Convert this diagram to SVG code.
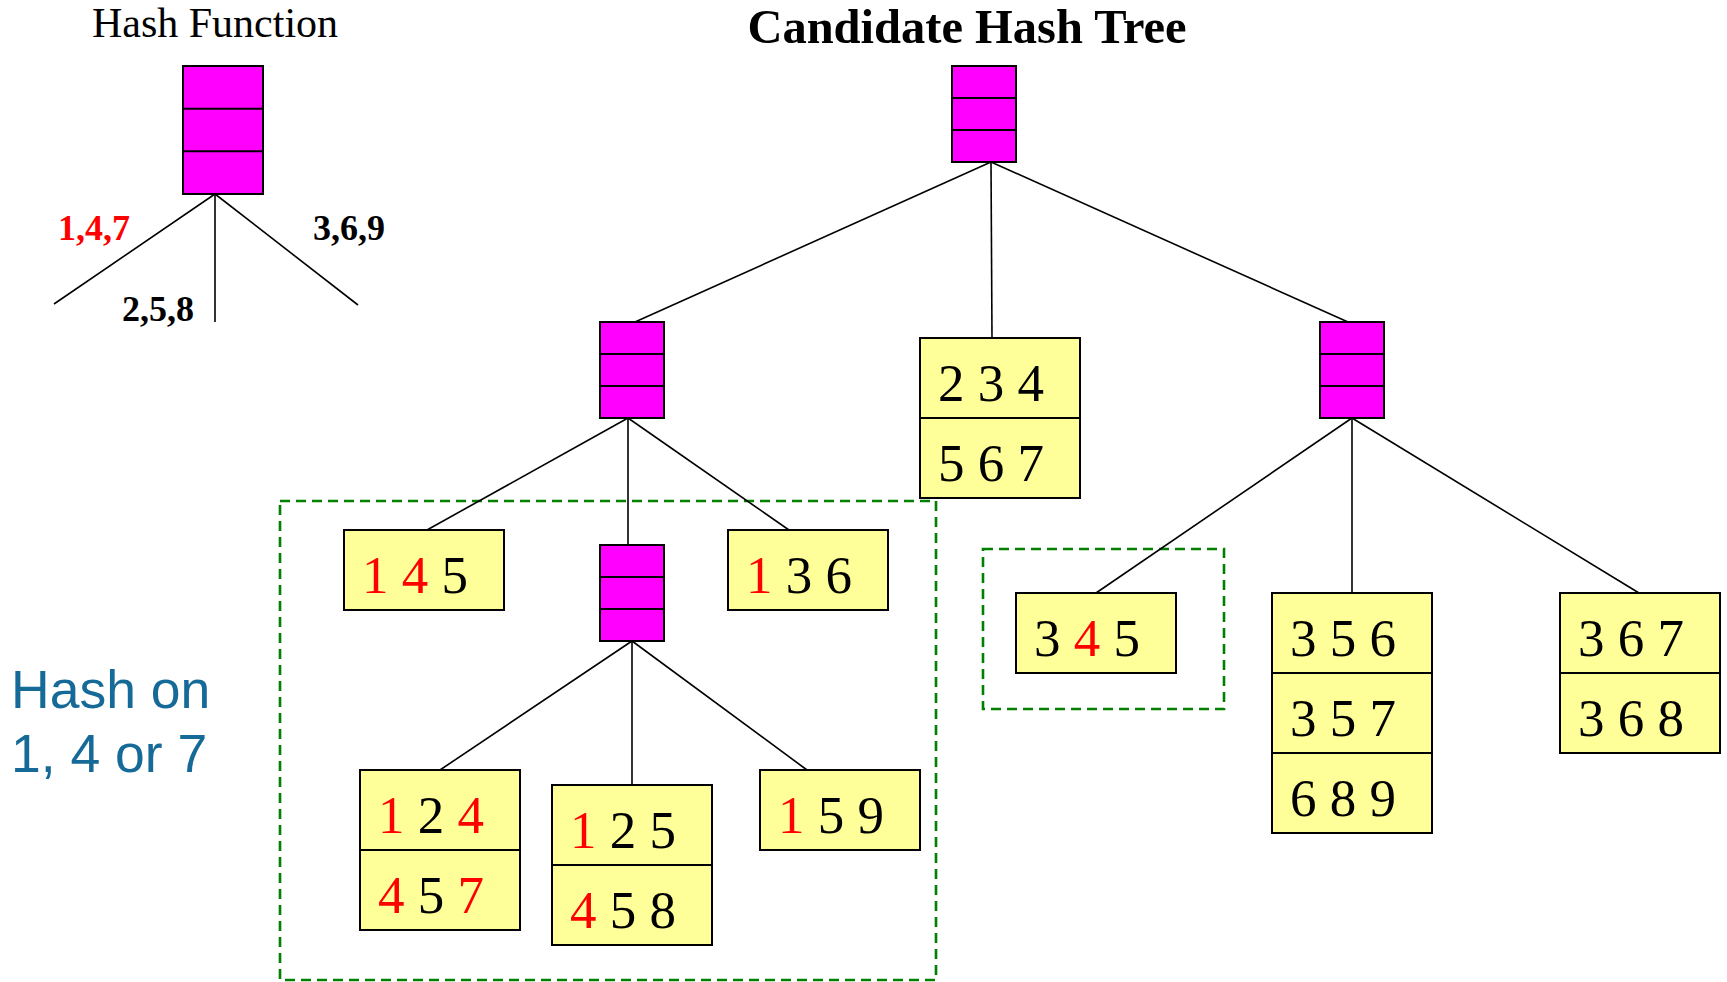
<svg xmlns="http://www.w3.org/2000/svg" width="1727" height="982" viewBox="0 0 1727 982">
<style>
.hb{fill:#FF00FF;stroke:#000;stroke-width:2}
.lf{fill:#FFFF99;stroke:#000;stroke-width:2}
.dv{stroke:#000;stroke-width:2}
.cn{stroke:#000;stroke-width:1.6;fill:none}
.ds{fill:none;stroke:#008000;stroke-width:2.6;stroke-dasharray:10,6}
.num{font-family:"Liberation Serif","Times New Roman",serif;font-size:53px;fill:#000}
.r{fill:#FF0000}
.lbl{font-family:"Liberation Serif","Times New Roman",serif;font-size:36px;font-weight:bold}
</style>
<rect width="1727" height="982" fill="#fff"/>

<g id="titles">
<text x="215" y="37" text-anchor="middle" font-family="Liberation Serif, serif" font-size="42">Hash Function</text>
<text x="967" y="43" text-anchor="middle" font-family="Liberation Serif, serif" font-size="48.5" font-weight="bold">Candidate Hash Tree</text>
<text x="11" y="708" font-family="Liberation Sans, Arial, sans-serif" font-size="53.5" fill="#166A98">Hash on</text>
<text x="11" y="772" font-family="Liberation Sans, Arial, sans-serif" font-size="53.5" fill="#166A98">1, 4 or 7</text>
</g>

<g id="highlights">
<rect class="ds" x="280" y="501" width="656" height="479"/>
<rect class="ds" x="983" y="549" width="241" height="160"/>
</g>

<g id="connectors">
<line class="cn" x1="215" y1="194" x2="54" y2="304"/>
<line class="cn" x1="215" y1="194" x2="215" y2="322"/>
<line class="cn" x1="215" y1="194" x2="358" y2="305"/>
<line class="cn" x1="991" y1="162" x2="635" y2="322"/>
<line class="cn" x1="991" y1="162" x2="992" y2="338"/>
<line class="cn" x1="991" y1="162" x2="1348" y2="322"/>
<line class="cn" x1="628" y1="418" x2="427" y2="530"/>
<line class="cn" x1="628" y1="418" x2="628" y2="545"/>
<line class="cn" x1="628" y1="418" x2="789" y2="530"/>
<line class="cn" x1="632" y1="641" x2="440" y2="770"/>
<line class="cn" x1="632" y1="641" x2="632" y2="785"/>
<line class="cn" x1="632" y1="641" x2="807" y2="770"/>
<line class="cn" x1="1352" y1="418" x2="1096" y2="593"/>
<line class="cn" x1="1352" y1="418" x2="1352" y2="593"/>
<line class="cn" x1="1352" y1="418" x2="1639" y2="593"/>
</g>

<g id="hash-labels" class="lbl">
<text x="58" y="240" fill="#FF0000">1,4,7</text>
<text x="313" y="240" fill="#000">3,6,9</text>
<text x="122" y="321" fill="#000">2,5,8</text>
</g>

<g id="hash-function">
<rect class="hb" x="183" y="66" width="80" height="128"/>
<line class="dv" x1="183" y1="108.7" x2="263" y2="108.7"/>
<line class="dv" x1="183" y1="151.3" x2="263" y2="151.3"/>
</g>

<g id="root">
<rect class="hb" x="952" y="66" width="64" height="96"/>
<line class="dv" x1="952" y1="98" x2="1016" y2="98"/>
<line class="dv" x1="952" y1="130" x2="1016" y2="130"/>
</g>

<g id="inner-left">
<rect class="hb" x="600" y="322" width="64" height="96"/>
<line class="dv" x1="600" y1="354" x2="664" y2="354"/>
<line class="dv" x1="600" y1="386" x2="664" y2="386"/>
</g>

<g id="inner-right">
<rect class="hb" x="1320" y="322" width="64" height="96"/>
<line class="dv" x1="1320" y1="354" x2="1384" y2="354"/>
<line class="dv" x1="1320" y1="386" x2="1384" y2="386"/>
</g>

<g id="inner-low">
<rect class="hb" x="600" y="545" width="64" height="96"/>
<line class="dv" x1="600" y1="577" x2="664" y2="577"/>
<line class="dv" x1="600" y1="609" x2="664" y2="609"/>
</g>

<g id="leaf-234">
<rect class="lf" x="920" y="338" width="160" height="160"/>
<line class="dv" x1="920" y1="418" x2="1080" y2="418"/>
<text class="num" x="938" y="401">2 3 4</text>
<text class="num" x="938" y="481">5 6 7</text>
</g>

<g id="leaf-145">
<rect class="lf" x="344" y="530" width="160" height="80"/>
<text class="num" x="362" y="593"><tspan class="r">1 4</tspan> 5</text>
</g>

<g id="leaf-136">
<rect class="lf" x="728" y="530" width="160" height="80"/>
<text class="num" x="746" y="593"><tspan class="r">1</tspan> 3 6</text>
</g>

<g id="leaf-124">
<rect class="lf" x="360" y="770" width="160" height="160"/>
<line class="dv" x1="360" y1="850" x2="520" y2="850"/>
<text class="num" x="378" y="833"><tspan class="r">1</tspan> 2 <tspan class="r">4</tspan></text>
<text class="num" x="378" y="913"><tspan class="r">4</tspan> 5 <tspan class="r">7</tspan></text>
</g>

<g id="leaf-125">
<rect class="lf" x="552" y="785" width="160" height="160"/>
<line class="dv" x1="552" y1="865" x2="712" y2="865"/>
<text class="num" x="570" y="848"><tspan class="r">1</tspan> 2 5</text>
<text class="num" x="570" y="928"><tspan class="r">4</tspan> 5 8</text>
</g>

<g id="leaf-159">
<rect class="lf" x="760" y="770" width="160" height="80"/>
<text class="num" x="778" y="833"><tspan class="r">1</tspan> 5 9</text>
</g>

<g id="leaf-345">
<rect class="lf" x="1016" y="593" width="160" height="80"/>
<text class="num" x="1034" y="656">3 <tspan class="r">4</tspan> 5</text>
</g>

<g id="leaf-356">
<rect class="lf" x="1272" y="593" width="160" height="240"/>
<line class="dv" x1="1272" y1="673" x2="1432" y2="673"/>
<line class="dv" x1="1272" y1="753" x2="1432" y2="753"/>
<text class="num" x="1290" y="656">3 5 6</text>
<text class="num" x="1290" y="736">3 5 7</text>
<text class="num" x="1290" y="816">6 8 9</text>
</g>

<g id="leaf-367">
<rect class="lf" x="1560" y="593" width="160" height="160"/>
<line class="dv" x1="1560" y1="673" x2="1720" y2="673"/>
<text class="num" x="1578" y="656">3 6 7</text>
<text class="num" x="1578" y="736">3 6 8</text>
</g>
</svg>
